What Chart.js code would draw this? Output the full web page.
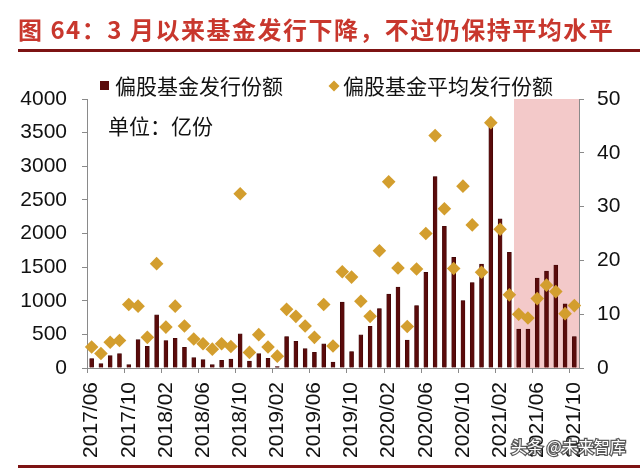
<!DOCTYPE html>
<html>
<head>
<meta charset="utf-8">
<script src="https://cdn.jsdelivr.net/npm/chart.js@4/dist/chart.umd.min.js"></script>
<style>
  html, body { margin: 0; padding: 0; background: #fff; }
  #wrap { position: relative; width: 640px; height: 468px; }
  canvas { display: block; }
</style>
</head>
<body>
<div id="wrap"><canvas id="c" width="640" height="468"></canvas></div>
<script>
// ---------- data ----------
const titleText = '图 64：3 月以来基金发行下降，不过仍保持平均水平';
const unitText = '单位：亿份';
const watermarkText = '头条 @未来智库';
const barLabel = '偏股基金发行份额';
const pointLabel = '偏股基金平均发行份额';

const categories = [
  '2017/06','2017/07','2017/08','2017/09','2017/10','2017/11','2017/12',
  '2018/01','2018/02','2018/03','2018/04','2018/05','2018/06','2018/07','2018/08','2018/09','2018/10','2018/11','2018/12',
  '2019/01','2019/02','2019/03','2019/04','2019/05','2019/06','2019/07','2019/08','2019/09','2019/10','2019/11','2019/12',
  '2020/01','2020/02','2020/03','2020/04','2020/05','2020/06','2020/07','2020/08','2020/09','2020/10','2020/11','2020/12',
  '2021/01','2021/02','2021/03','2021/04','2021/05','2021/06','2021/07','2021/08','2021/09','2021/10'
];

// 偏股基金发行份额 (亿份, left axis)
const issueShares = [
  140, 65, 184, 214, 50, 422, 323,
  790, 408, 442, 308, 154, 124, 50, 114, 134, 507, 104, 214,
  144, 20, 467, 398, 288, 234, 358, 89, 979, 244, 492, 621,
  885, 1098, 1203, 417, 929, 1421, 2848, 2107, 1645, 1004, 1272, 1546,
  3690, 2217, 1720, 577, 577, 1337, 1441, 1531, 954, 467
];

// 偏股基金平均发行份额 (亿份, right axis)
const avgShares = [
  3.9, 2.7, 4.8, 5.1, 11.8, 11.5, 5.7,
  19.4, 7.6, 11.5, 7.8, 5.4, 4.5, 3.5, 4.5, 4.0, 32.4, 2.9, 6.2,
  3.9, 2.2, 10.9, 9.6, 7.8, 5.7, 11.8, 4.1, 17.9, 16.9, 12.4, 9.6,
  21.8, 34.6, 18.6, 7.7, 18.4, 25.0, 43.2, 29.6, 18.5, 33.8, 26.6, 17.8,
  45.6, 25.8, 13.6, 10.0, 9.3, 12.9, 15.4, 14.2, 10.1, 11.6
];

const leftTicks = { min: 0, max: 4000, step: 500 };
const rightTicks = { min: 0, max: 50, step: 5 };
const labelEvery = 4;
const shadeFrom = '2021/04';

// ---------- style ----------
const BAR_COLOR = '#5a0b0b';
const BAR_BORDER = '#3a0404';
const PT_COLOR = '#d39e2e';
const AXIS = '#8a8a8a';
const TXT = '#111111';
const TITLE_COLOR = '#c8372d';
const RULE_COLOR = '#7d1313';
const SHADE = '#f3c9c9';
const NUM_FONT = '"Liberation Sans", Arial, sans-serif';
const CJK_FONT = '"Noto Sans CJK SC", "Noto Sans", sans-serif';

const deco = {
  id: 'deco',
  beforeDraw(chart) {
    const ctx = chart.ctx;
    ctx.save();
    ctx.fillStyle = '#ffffff';
    ctx.fillRect(0, 0, chart.width, chart.height);
    // title
    ctx.fillStyle = TITLE_COLOR;
    ctx.font = 'bold 24px ' + CJK_FONT;
    ctx.textBaseline = 'middle';
    ctx.textAlign = 'left';
    try { ctx.letterSpacing = '1.5px'; } catch (e) {}
    ctx.fillText(titleText, 18, 30);
    try { ctx.letterSpacing = '0px'; } catch (e) {}
    // rules
    ctx.fillStyle = RULE_COLOR;
    ctx.fillRect(18, 49, 622, 3);
    ctx.fillRect(18, 465, 622, 3);
    // shaded period
    const xs = chart.scales.x;
    const a = chart.chartArea;
    const i0 = categories.indexOf(shadeFrom);
    const half = (xs.getPixelForValue(1) - xs.getPixelForValue(0)) / 2;
    const x0 = xs.getPixelForValue(i0) - half;
    ctx.fillStyle = SHADE;
    ctx.fillRect(x0, a.top, a.right - x0, a.bottom - a.top);
    ctx.restore();
  },
  afterDraw(chart) {
    const ctx = chart.ctx;
    const ds = chart.data.datasets;
    ctx.save();
    ctx.textBaseline = 'middle';
    ctx.textAlign = 'left';
    ctx.font = '21px ' + CJK_FONT;
    // legend item 1: square
    ctx.fillStyle = ds[0].backgroundColor;
    ctx.fillRect(100, 81, 9, 9);
    ctx.fillStyle = TXT;
    ctx.fillText(ds[0].label, 115, 86);
    // legend item 2: diamond
    const cx = 334, cy = 86, r = 5.5;
    ctx.fillStyle = ds[1].backgroundColor;
    ctx.beginPath();
    ctx.moveTo(cx, cy - r); ctx.lineTo(cx + r, cy); ctx.lineTo(cx, cy + r); ctx.lineTo(cx - r, cy);
    ctx.closePath(); ctx.fill();
    ctx.fillStyle = TXT;
    ctx.fillText(ds[1].label, 343, 86);
    // unit
    ctx.fillText(unitText, 108, 126);
    // watermark
    ctx.font = '16px ' + CJK_FONT;
    ctx.lineWidth = 2.5;
    ctx.strokeStyle = 'rgba(60,60,60,0.85)';
    ctx.strokeText(watermarkText, 511, 447);
    ctx.fillStyle = '#ffffff';
    ctx.fillText(watermarkText, 511, 447);
    ctx.restore();
  }
};

const numFont = { family: NUM_FONT, size: 21 };
const plain = (v) => String(v);

new Chart(document.getElementById('c').getContext('2d'), {
  data: {
    labels: categories,
    datasets: [
      {
        type: 'bar', label: barLabel, data: issueShares, yAxisID: 'y',
        backgroundColor: BAR_COLOR, borderColor: BAR_BORDER, borderWidth: 0.6,
        barThickness: 4, order: 2
      },
      {
        type: 'line', label: pointLabel, data: avgShares, yAxisID: 'y1',
        showLine: false, pointStyle: 'rectRot', pointRadius: 6.8, pointHoverRadius: 6.8,
        backgroundColor: PT_COLOR, borderColor: PT_COLOR, pointBorderWidth: 0, order: 1
      }
    ]
  },
  options: {
    responsive: false,
    animation: false,
    devicePixelRatio: 1,
    layout: { padding: { top: 99, left: 0, right: 0, bottom: 0 } },
    plugins: { legend: { display: false }, tooltip: { enabled: false }, title: { display: false } },
    scales: {
      x: {
        type: 'category', offset: true,
        grid: {
          offset: true, drawOnChartArea: false, drawTicks: true, tickLength: 5, lineWidth: 1,
          color: (c) => (c.index !== undefined && c.index % labelEvery === 0) ? AXIS : 'rgba(0,0,0,0)'
        },
        border: { color: AXIS, width: 1 },
        ticks: {
          autoSkip: false, minRotation: 90, maxRotation: 90, padding: 9, color: TXT, font: numFont,
          callback: (v, i) => (i % labelEvery === 0 ? categories[i] : '')
        },
        afterFit: (s) => { s.height = 100; }
      },
      y: {
        position: 'left', min: leftTicks.min, max: leftTicks.max,
        ticks: { stepSize: leftTicks.step, padding: 15, color: TXT, font: numFont, callback: plain },
        grid: { drawOnChartArea: false, tickLength: 5, color: AXIS },
        border: { color: AXIS, width: 1 },
        afterFit: (s) => { s.width = 87; }
      },
      y1: {
        position: 'right', min: rightTicks.min, max: rightTicks.max,
        ticks: { stepSize: rightTicks.step, padding: 13, color: TXT, font: numFont, callback: plain },
        grid: { drawOnChartArea: false, tickLength: 5, color: AXIS },
        border: { color: AXIS, width: 1 },
        afterFit: (s) => { s.width = 61; }
      }
    }
  },
  plugins: [deco]
});
</script>
</body>
</html>
